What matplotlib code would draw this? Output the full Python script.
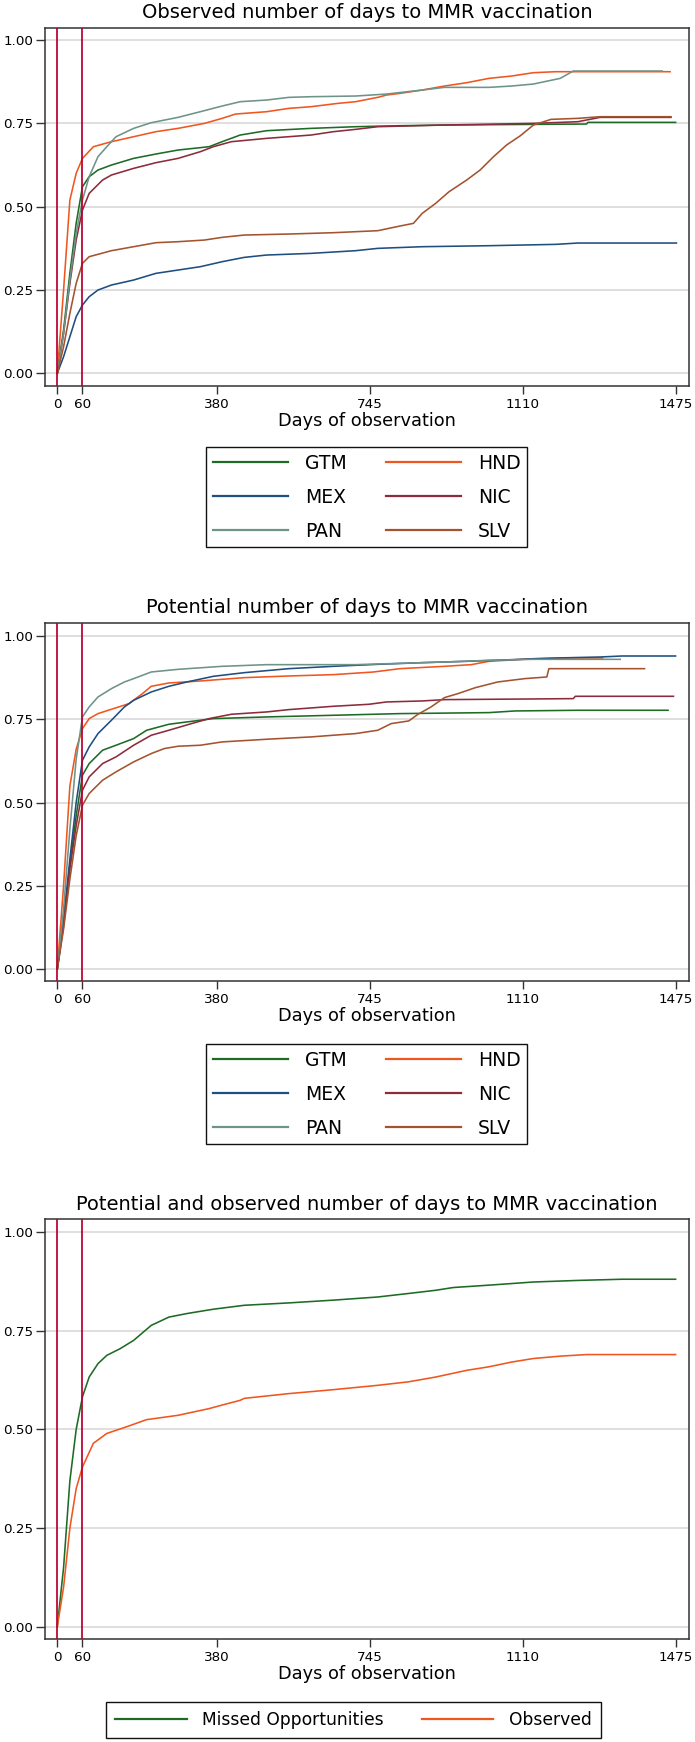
import matplotlib
matplotlib.use("Agg")
import matplotlib.pyplot as plt

plt.rcParams['font.family'] = ['DejaVu Sans']

# ---------------- data ----------------
countries = ["GTM", "HND", "MEX", "NIC", "PAN", "SLV"]
colors = {"GTM": "#1d6b25", "HND": "#f0561f", "MEX": "#1f4e80",
          "NIC": "#8c2b3c", "PAN": "#6e9389", "SLV": "#a4532f"}

xticks = [0, 60, 380, 745, 1110, 1475]
yticks = [0.0, 0.25, 0.5, 0.75, 1.0]
vlines = [0, 60]

# Panel 1: observed
obs_GTM_d = [0, 15, 30, 45, 60, 76, 97, 129, 182, 235, 288, 362, 393, 436, 499, 605, 711, 817, 923, 1135, 1262, 1265, 1474]
obs_GTM_v = [0, .13, .30, .45, .56, .59, .61, .625, .645, .658, .67, .68, .695, .715, .728, .735, .74, .743, .745, .747, .748, .753, .753]
obs_HND_d = [0, 15, 30, 45, 60, 86, 129, 182, 235, 288, 351, 393, 425, 499, 552, 605, 669, 711, 764, 785, 817, 870, 923, 976, 1029, 1083, 1135, 1188, 1461]
obs_HND_v = [0, .25, .52, .60, .645, .68, .695, .71, .725, .735, .75, .765, .778, .785, .795, .80, .81, .815, .828, .835, .84, .85, .862, .872, .885, .892, .902, .905, .905]
obs_MEX_d = [0, 15, 30, 45, 60, 76, 97, 129, 182, 235, 288, 341, 393, 446, 499, 605, 711, 764, 870, 1029, 1188, 1241, 1476]
obs_MEX_v = [0, .05, .11, .17, .205, .23, .25, .265, .28, .30, .31, .32, .335, .348, .355, .36, .368, .375, .38, .383, .387, .391, .391]
obs_NIC_d = [0, 15, 30, 45, 60, 76, 108, 129, 182, 235, 288, 341, 372, 415, 499, 605, 658, 711, 764, 923, 1135, 1241, 1294, 1463]
obs_NIC_v = [0, .12, .27, .40, .49, .54, .58, .595, .615, .632, .645, .665, .68, .695, .705, .715, .725, .732, .74, .745, .75, .755, .768, .768]
obs_PAN_d = [0, 15, 30, 45, 60, 76, 97, 118, 140, 182, 224, 288, 341, 393, 436, 499, 552, 605, 711, 785, 870, 923, 1029, 1083, 1135, 1199, 1230, 1442]
obs_PAN_v = [0, .12, .28, .42, .52, .59, .65, .68, .71, .735, .752, .768, .785, .802, .815, .82, .828, .83, .832, .838, .85, .858, .858, .862, .868, .885, .907, .907]
obs_SLV_d = [0, 15, 30, 45, 60, 76, 129, 182, 235, 288, 351, 393, 446, 552, 658, 764, 817, 849, 870, 902, 934, 976, 1008, 1040, 1071, 1103, 1135, 1177, 1241, 1294, 1463]
obs_SLV_v = [0, .08, .18, .27, .33, .35, .368, .38, .392, .395, .40, .408, .415, .418, .422, .428, .442, .45, .48, .51, .545, .58, .61, .65, .685, .712, .745, .762, .765, .77, .77]

# Panel 2: potential
pot_GTM_d = [0, 15, 30, 45, 60, 76, 108, 140, 182, 213, 266, 309, 372, 499, 658, 817, 1029, 1092, 1241, 1456]
pot_GTM_v = [0, .14, .31, .46, .582, .617, .657, .672, .692, .717, .735, .742, .752, .757, .762, .767, .77, .775, .777, .777]
pot_HND_d = [0, 15, 30, 45, 60, 76, 97, 129, 171, 203, 224, 266, 341, 446, 552, 658, 754, 817, 923, 987, 1029, 1135, 1241, 1300]
pot_HND_v = [0, .25, .55, .66, .722, .752, .767, .78, .797, .827, .849, .859, .865, .875, .88, .884, .892, .902, .909, .914, .924, .932, .934, .934]
pot_MEX_d = [0, 15, 30, 45, 60, 76, 97, 129, 160, 182, 224, 266, 309, 372, 446, 552, 658, 764, 870, 976, 1083, 1188, 1294, 1346, 1474]
pot_MEX_v = [0, .15, .33, .50, .627, .667, .707, .747, .787, .807, .832, .849, .862, .879, .89, .902, .909, .915, .92, .924, .929, .934, .937, .94, .94]
pot_NIC_d = [0, 15, 30, 45, 60, 76, 108, 140, 182, 224, 266, 320, 362, 415, 499, 552, 658, 743, 785, 870, 923, 1135, 1230, 1235, 1469]
pot_NIC_v = [0, .13, .30, .43, .537, .577, .617, .637, .672, .702, .717, .737, .752, .765, .772, .779, .789, .795, .802, .805, .809, .811, .812, .819, .819]
pot_PAN_d = [0, 15, 30, 45, 60, 76, 97, 129, 160, 182, 224, 288, 393, 499, 711, 923, 1029, 1135, 1342]
pot_PAN_v = [0, .18, .42, .63, .757, .787, .817, .842, .862, .872, .892, .90, .909, .914, .914, .922, .927, .93, .93]
pot_SLV_d = [0, 15, 30, 45, 60, 76, 108, 140, 182, 224, 255, 288, 341, 393, 499, 605, 711, 764, 796, 838, 860, 891, 923, 955, 997, 1050, 1114, 1167, 1172, 1400]
pot_SLV_v = [0, .12, .27, .40, .492, .527, .567, .592, .622, .647, .662, .669, .672, .682, .69, .697, .707, .717, .737, .745, .765, .787, .815, .827, .845, .862, .872, .877, .902, .902]

# Panel 3: combined
mo_d = [0, 15, 30, 45, 60, 76, 97, 118, 150, 182, 224, 266, 309, 372, 446, 552, 658, 764, 838, 902, 944, 1029, 1135, 1241, 1346, 1474]
mo_v = [0, .15, .37, .50, .583, .633, .667, .688, .705, .726, .764, .785, .794, .805, .815, .821, .828, .836, .845, .853, .86, .866, .874, .878, .881, .881]
ob_d = [0, 15, 30, 45, 60, 86, 118, 160, 213, 288, 362, 393, 436, 446, 552, 658, 764, 838, 902, 976, 1029, 1083, 1135, 1199, 1262, 1474]
ob_v = [0, .10, .25, .35, .405, .465, .49, .505, .525, .536, .553, .562, .574, .579, .591, .601, .612, .621, .633, .65, .659, .671, .68, .686, .69, .69]

obs = {"GTM": (obs_GTM_d, obs_GTM_v), "HND": (obs_HND_d, obs_HND_v), "MEX": (obs_MEX_d, obs_MEX_v),
       "NIC": (obs_NIC_d, obs_NIC_v), "PAN": (obs_PAN_d, obs_PAN_v), "SLV": (obs_SLV_d, obs_SLV_v)}
pot = {"GTM": (pot_GTM_d, pot_GTM_v), "HND": (pot_HND_d, pot_HND_v), "MEX": (pot_MEX_d, pot_MEX_v),
       "NIC": (pot_NIC_d, pot_NIC_v), "PAN": (pot_PAN_d, pot_PAN_v), "SLV": (pot_SLV_d, pot_SLV_v)}

# ---------------- figure ----------------
W, H = 695, 1742
fig = plt.figure(figsize=(W / 100, H / 100), dpi=100)

def axes_px(left, top, right, bottom):
    return fig.add_axes([left / W, 1 - bottom / H, (right - left) / W, (bottom - top) / H])

def style(ax, title, ylim):
    ax.set_xlim(-29.3, 1506)
    ax.set_ylim(*ylim)
    ax.set_xticks(xticks)
    ax.set_yticks(yticks)
    ax.set_yticklabels([f"{t:.2f}" for t in yticks])
    ax.tick_params(axis='y', length=6.5, width=1.0, pad=2, labelsize=9.7, color='#333333')
    ax.tick_params(axis='x', length=5.5, width=1.0, pad=3, labelsize=9.7, color='#333333')
    ax.grid(axis='y', color='#dcdcdc', lw=1.3, zorder=0)
    ax.set_axisbelow(True)
    for s in ax.spines.values():
        s.set_color('#333333')
        s.set_linewidth(1.1)
    for v in vlines:
        ax.axvline(v, color='#b8002e', lw=1.25, zorder=5)
    ax.set_title(title, fontsize=14, pad=7)
    ax.set_xlabel("Days of observation", fontsize=12.8, labelpad=1)

def finish_legend(leg):
    leg.get_frame().set_edgecolor('#111111')
    leg.get_frame().set_linewidth(1.0)
    for ln in leg.get_lines():
        ln.set_linewidth(1.6)

# Panel 1
ax1 = axes_px(45, 27.7, 689, 385.7)
for c in countries:
    d, v = obs[c]
    ax1.plot(d, v, color=colors[c], lw=1.15, label=c, zorder=3)
style(ax1, "Observed number of days to MMR vaccination", (-0.037, 1.037))

# Panel 2
ax2 = axes_px(45, 622.7, 689, 981)
for c in countries:
    d, v = pot[c]
    ax2.plot(d, v, color=colors[c], lw=1.15, label=c, zorder=3)
style(ax2, "Potential number of days to MMR vaccination", (-0.036, 1.04))

# Panel 3
ax3 = axes_px(45, 1219.3, 689, 1639.3)
ax3.plot(mo_d, mo_v, color="#1d6b25", lw=1.15, label="Missed Opportunities", zorder=3)
ax3.plot(ob_d, ob_v, color="#f0561f", lw=1.15, label="Observed", zorder=3)
style(ax3, "Potential and observed number of days to MMR vaccination", (-0.032, 1.033))

# legends: row-major GTM HND / MEX NIC / PAN SLV
order = ["GTM", "MEX", "PAN", "HND", "NIC", "SLV"]
for ax, top in ((ax1, 447), (ax2, 1044)):
    h, l = ax.get_legend_handles_labels()
    idx = [l.index(o) for o in order]
    leg = ax.legend([h[i] for i in idx], [l[i] for i in idx], loc='upper center',
                    bbox_to_anchor=(366.7 / W, 1 - top / H),
                    bbox_transform=fig.transFigure, ncol=2, fontsize=13.5,
                    handlelength=4.0, handletextpad=0.9, columnspacing=2.1,
                    labelspacing=0.8, borderpad=0.35, borderaxespad=0,
                    frameon=True, fancybox=False, framealpha=1)
    finish_legend(leg)

leg3 = ax3.legend(loc='upper center', bbox_to_anchor=(353.3 / W, 1 - 1701.7 / H),
                  bbox_transform=fig.transFigure, ncol=2, fontsize=12.3,
                  handlelength=4.2, handletextpad=0.9, columnspacing=2.2,
                  labelspacing=0.5, borderpad=0.55, borderaxespad=0,
                  frameon=True, fancybox=False, framealpha=1)
finish_legend(leg3)

fig.savefig("out.png", dpi=100)
